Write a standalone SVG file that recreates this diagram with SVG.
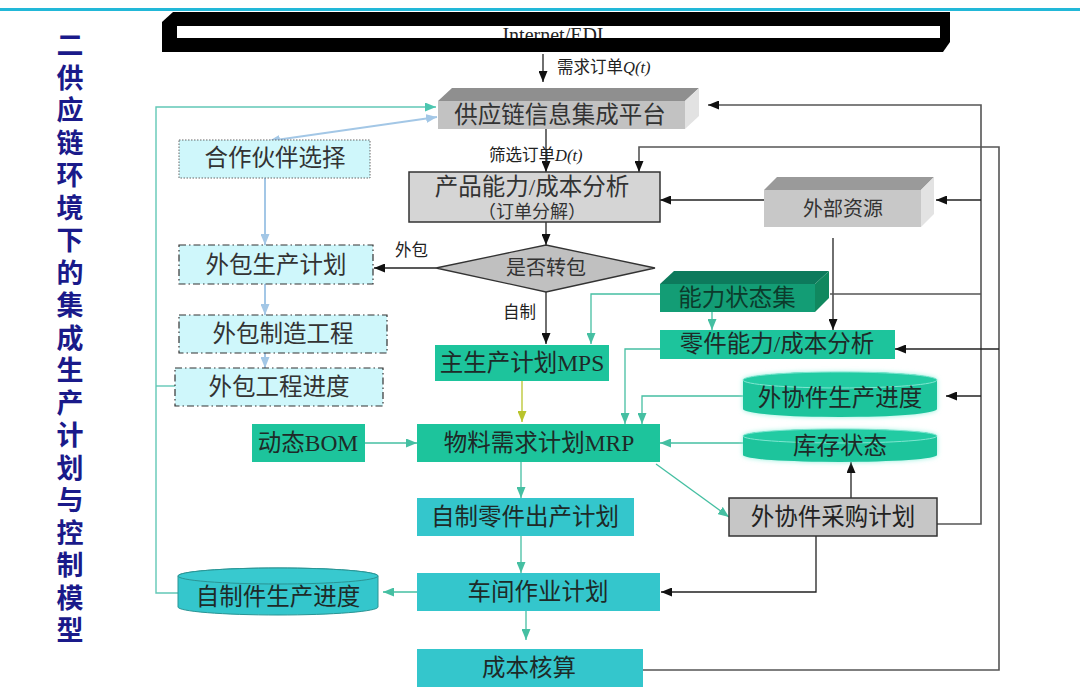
<svg xmlns="http://www.w3.org/2000/svg" width="1080" height="692" viewBox="0 0 1080 692">
<style>
.t{font-family:'Liberation Serif','Noto Sans CJK SC',serif;font-size:23.5px;text-anchor:middle;fill:#1e2a28}
.s{font-family:'Liberation Serif','Noto Sans CJK SC',serif;font-size:16.5px;fill:#222}
.ttl{font-family:'Noto Sans CJK SC',sans-serif;font-size:27px;font-weight:700;fill:#1a1a8a;writing-mode:vertical-rl;letter-spacing:5.5px}
.teal{fill:#1dc49c}
.cyan{fill:#34c6cc}
.lc{fill:#cff7fb}
.bk{stroke:#222;stroke-width:1.3;fill:none}
.gr{stroke:#555;stroke-width:1.6;fill:none}
.tl{stroke:#45bfa2;stroke-width:1.3;fill:none}
.lt{stroke:#62c8b6;stroke-width:1.4;fill:none}
.lb{stroke:#a3c7e6;stroke-width:2;fill:none}
</style>
<defs>
<marker id="ab" markerUnits="userSpaceOnUse" markerWidth="11" markerHeight="9" refX="11" refY="4.5" orient="auto"><path d="M0,0 L11,4.5 L0,9 z" fill="#111"/></marker>
<marker id="at" markerUnits="userSpaceOnUse" markerWidth="11" markerHeight="9" refX="11" refY="4.5" orient="auto"><path d="M0,0 L11,4.5 L0,9 z" fill="#45bfa2"/></marker>
<marker id="al" markerUnits="userSpaceOnUse" markerWidth="11" markerHeight="9" refX="11" refY="4.5" orient="auto"><path d="M0,0 L11,4.5 L0,9 z" fill="#4cc6b0"/></marker>
<marker id="ay" markerUnits="userSpaceOnUse" markerWidth="11" markerHeight="9" refX="11" refY="4.5" orient="auto"><path d="M0,0 L11,4.5 L0,9 z" fill="#b9c42c"/></marker>
<marker id="alb" markerUnits="userSpaceOnUse" markerWidth="11" markerHeight="9" refX="11" refY="4.5" orient="auto-start-reverse"><path d="M0,0 L11,4.5 L0,9 z" fill="#a3c7e6"/></marker>
<clipPath id="clipW"><rect x="177" y="26" width="763" height="12"/></clipPath>
<filter id="glow" x="-10%" y="-30%" width="120%" height="160%"><feGaussianBlur stdDeviation="2.5"/></filter>
</defs>

<rect x="0" y="8" width="1080" height="3" fill="#22b8d8"/>

<g id="title">
<text class="ttl" x="70" y="31.5">二供应链环境下的集成生产计划与控制模型</text>
</g>

<g id="internet">
<polygon points="173,12 950,12 950,42 943,52 162,52 162,22" fill="#000"/>
<rect x="177" y="26" width="763" height="12" fill="#fff"/>
<text x="553" y="42" clip-path="url(#clipW)" style="font-family:'Liberation Serif',serif;font-size:20px;text-anchor:middle;fill:#222">Internet/EDI</text>
</g>

<g id="connectors">
<line class="bk" x1="543" y1="54" x2="543" y2="82" marker-end="url(#ab)"/>
<text class="s" x="557" y="73">需求订单<tspan font-style="italic">Q(t)</tspan></text>
<line class="bk" x1="546" y1="129" x2="546" y2="172" marker-end="url(#ab)"/>
<text class="s" x="489" y="161">筛选订单<tspan font-style="italic">D(t)</tspan></text>
<line class="bk" x1="546" y1="222" x2="546" y2="245" marker-end="url(#ab)"/>
<line class="bk" x1="436" y1="268" x2="374" y2="268" marker-end="url(#ab)"/>
<text class="s" x="395" y="256">外包</text>
<line class="bk" x1="546" y1="292" x2="546" y2="344" marker-end="url(#ab)"/>
<text class="s" x="503" y="318">自制</text>
<line class="bk" x1="764" y1="200" x2="660" y2="200" marker-end="url(#ab)"/>
<line class="bk" x1="833" y1="238" x2="833" y2="330" marker-end="url(#ab)"/>
<polyline class="gr" points="937,524 981,524 981,105 708,105" marker-end="url(#ab)"/>
<line class="gr" x1="830" y1="294" x2="981" y2="294"/>
<line class="bk" x1="981" y1="200" x2="936" y2="200" marker-end="url(#ab)"/>
<line class="bk" x1="981" y1="396" x2="946" y2="396" marker-end="url(#ab)"/>
<polyline class="gr" points="643,670 999,670 999,147 639,147 639,172" marker-end="url(#ab)"/>
<line class="bk" x1="999" y1="349" x2="895" y2="349" marker-end="url(#ab)"/>
<polyline class="bk" points="816,536 816,592 661,592" marker-end="url(#ab)"/>
<line class="bk" x1="851" y1="498" x2="851" y2="462" marker-end="url(#ab)"/>
<polyline class="tl" points="660,294 591,294 591,344" marker-end="url(#at)"/>
<line class="tl" x1="712" y1="312" x2="712" y2="330" marker-end="url(#at)"/>
<polyline class="tl" points="660,349 625,349 625,424" marker-end="url(#at)"/>
<polyline class="tl" points="743,396 642,396 642,424" marker-end="url(#at)"/>
<line class="tl" x1="743" y1="443" x2="660" y2="443" marker-end="url(#at)"/>
<line class="tl" x1="365" y1="443" x2="417" y2="443" marker-end="url(#at)"/>
<line class="tl" x1="656" y1="464" x2="729" y2="517" marker-end="url(#at)"/>
<line x1="522" y1="381" x2="522" y2="422" stroke="#b9c42c" stroke-width="1.3" marker-end="url(#ay)"/>
<line class="tl" x1="521" y1="462" x2="521" y2="498" marker-end="url(#at)"/>
<line class="tl" x1="521" y1="536" x2="521" y2="573" marker-end="url(#at)"/>
<line class="tl" x1="417" y1="592" x2="383" y2="592" marker-end="url(#at)"/>
<line class="tl" x1="526" y1="611" x2="526" y2="640" marker-end="url(#at)"/>
<polyline class="lt" points="178,593 156,593 156,107 436,107" marker-end="url(#al)"/>
<line class="lt" x1="175" y1="386" x2="156" y2="386"/>
<line class="lb" x1="265" y1="178" x2="265" y2="245" marker-end="url(#alb)"/>
<line class="lb" x1="265" y1="284" x2="265" y2="315" marker-end="url(#alb)"/>
<line class="lb" x1="265" y1="353" x2="265" y2="368" marker-end="url(#alb)"/>
<line class="lb" x1="269" y1="141" x2="437" y2="117" marker-start="url(#alb)" marker-end="url(#alb)"/>
</g>

<g id="platform">
<polygon points="438,101 452,88 699,88 685,101" fill="#8f8f8f"/>
<rect x="438" y="101" width="247" height="28" fill="#c2c2c2"/>
<polygon points="685,101 699,88 699,116 685,129" fill="#e2e2e2"/>
<text class="t" x="560" y="123" style="fill:#333">供应链信息集成平台</text>
</g>

<g id="product">
<rect x="409" y="172" width="251" height="50" fill="#d5d5d5" stroke="#333" stroke-width="1.5"/>
<text class="t" x="532" y="195" style="fill:#333">产品能力/成本分析</text>
<text class="t" x="532" y="218" style="fill:#333;font-size:18px">（订单分解）</text>
</g>

<g id="external">
<polygon points="764,190 777,177 934,177 921,190" fill="#9a9a9a"/>
<rect x="764" y="190" width="157" height="37" fill="#c8c8c8"/>
<polygon points="921,190 934,177 934,214 921,227" fill="#e3e3e3"/>
<text class="t" x="843" y="216" style="fill:#333;font-size:20px">外部资源</text>
</g>

<g id="decision">
<polygon points="436,268 546,245 655,268 546,292" fill="#c0c0c0" stroke="#333" stroke-width="1.3"/>
<text class="t" x="546" y="275" style="fill:#333;font-size:20px">是否转包</text>
</g>

<g id="partner">
<rect x="179" y="140" width="191" height="38" class="lc" stroke="#666" stroke-width="1" stroke-dasharray="1.5 1.5"/>
<text class="t" x="275" y="166" style="fill:#333">合作伙伴选择</text>
</g>
<g id="outplan">
<rect x="179" y="245" width="194" height="39" class="lc" stroke="#333" stroke-width="1.2" stroke-dasharray="7 3 1.5 3"/>
<text class="t" x="276" y="273" style="fill:#333">外包生产计划</text>
</g>
<g id="outmfg">
<rect x="179" y="315" width="208" height="38" class="lc" stroke="#333" stroke-width="1.2" stroke-dasharray="7 3 1.5 3"/>
<text class="t" x="283" y="342" style="fill:#333">外包制造工程</text>
</g>
<g id="outprog">
<rect x="175" y="368" width="208" height="38" class="lc" stroke="#333" stroke-width="1.2" stroke-dasharray="7 3 1.5 3"/>
<text class="t" x="279" y="395" style="fill:#333">外包工程进度</text>
</g>

<g id="capstate">
<polygon points="660,284 674,271 829,271 815,284" fill="#0d7a5c"/>
<rect x="660" y="284" width="155" height="28" fill="#139d75"/>
<polygon points="815,284 829,271 829,298 815,312" fill="#10885f"/>
<text class="t" x="737" y="306" style="fill:#0c3b2c">能力状态集</text>
</g>

<g id="partcap">
<rect x="660" y="330" width="235" height="29" class="teal"/>
<text class="t" x="777" y="352">零件能力/成本分析</text>
</g>

<g id="mps">
<rect x="435" y="345" width="174" height="36" class="teal"/>
<text class="t" x="522" y="371">主生产计划MPS</text>
</g>

<g id="subprog">
<path d="M743,380 v29 a97,8 0 0 0 194,0 v-29 a97,8 0 0 0 -194,0 z" fill="#8ff0dc" filter="url(#glow)"/>
<path d="M743,380 v29 a97,8 0 0 0 194,0 v-29 a97,8 0 0 0 -194,0 z" class="teal"/>
<ellipse cx="840" cy="380" rx="97" ry="8" fill="#22cba3" stroke="#7fe6d0" stroke-width="1"/>
<text class="t" x="840" y="406">外协件生产进度</text>
</g>

<g id="inventory">
<path d="M743,436 v19 a97,7 0 0 0 194,0 v-19 a97,7 0 0 0 -194,0 z" fill="#8ff0dc" filter="url(#glow)"/>
<path d="M743,436 v19 a97,7 0 0 0 194,0 v-19 a97,7 0 0 0 -194,0 z" class="teal"/>
<ellipse cx="840" cy="436" rx="97" ry="7" fill="#22cba3" stroke="#7fe6d0" stroke-width="1"/>
<text class="t" x="840" y="454">库存状态</text>
</g>

<g id="mrp">
<rect x="417" y="424" width="243" height="38" class="teal"/>
<text class="t" x="539" y="451">物料需求计划MRP</text>
</g>

<g id="bom">
<rect x="252" y="424" width="113" height="38" class="teal"/>
<text class="t" x="308" y="451">动态BOM</text>
</g>

<g id="purchase">
<rect x="729" y="498" width="208" height="38" fill="#c6c6c6" stroke="#333" stroke-width="1.5"/>
<text class="t" x="833" y="525" style="fill:#222">外协件采购计划</text>
</g>

<g id="selfparts">
<rect x="417" y="498" width="217" height="38" class="cyan"/>
<text class="t" x="525" y="525">自制零件出产计划</text>
</g>

<g id="workshop">
<rect x="417" y="573" width="243" height="38" class="cyan"/>
<text class="t" x="538" y="600">车间作业计划</text>
</g>

<g id="cost">
<rect x="417" y="649" width="226" height="38" class="cyan"/>
<text class="t" x="529" y="676">成本核算</text>
</g>

<g id="selfprog">
<path d="M178,576 v31 a100,8 0 0 0 200,0 v-31 a100,8 0 0 0 -200,0 z" class="cyan" stroke="#2a9494" stroke-width="1"/>
<ellipse cx="278" cy="576" rx="100" ry="8" fill="#38c9cf" stroke="#2a9494" stroke-width="1"/>
<text class="t" x="278" y="605">自制件生产进度</text>
</g>
</svg>
